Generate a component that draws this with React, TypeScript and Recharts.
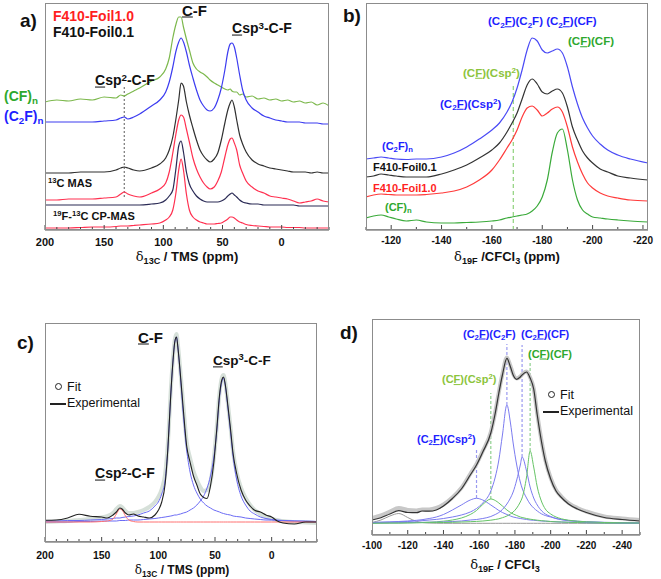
import React from 'react';
import { LineChart, Line, XAxis, YAxis, ReferenceLine } from 'recharts';

const SANS = '"Liberation Sans", Arial, Helvetica, sans-serif';
const RED = '#ff1f1f';
const BLUE = '#1f1fff';
const GREEN = '#2ea82e';
const LIME = '#8cc43c';

// a) 13C MAS / CP-MAS spectra
const A_PPM = [200, 190, 180, 170, 160, 150, 140, 136, 133, 130, 125, 120, 110, 103, 98, 95, 92, 89.5, 87, 85, 83, 80.5, 78, 75, 72, 69, 66, 63, 60.5, 57, 54, 51, 48, 45.5, 43.5, 42, 40, 38, 35.5, 33, 30, 25, 20, 15, 10, 5, 0, -5, -10, -15, -20, -25, -30, -35, -40];
const A_CFN = [128, 130, 129, 131, 130, 133, 132, 135, 134, 136, 139, 142, 149, 153, 161, 172, 192, 205, 213, 213, 203, 191, 180, 167, 161, 158, 156, 153, 150, 147, 145, 143, 141, 140, 141, 139, 138, 138, 135, 136, 133, 134, 131, 132, 130, 131, 129, 130, 128, 129, 127, 128, 125, 127, 124];
const A_C2FN = [108, 108, 108, 108, 108, 109, 110, 112, 113, 111, 113, 116, 124, 130, 138, 148, 163, 178, 188, 192, 188, 178, 165, 152, 140, 130, 124, 120, 119, 122, 130, 142, 160, 178, 186, 187, 183, 172, 155, 140, 130, 122, 118, 114, 112, 110, 109, 108, 108, 108, 107, 107, 107, 106, 106];
const A_MAS_01 = [57, 57, 57, 58, 58, 58, 60, 62, 63, 62, 60, 59, 62, 66, 72, 80, 93, 110, 130, 147, 144, 128, 115, 102, 90, 80, 74, 70, 68, 71, 77, 90, 107, 120, 127, 130, 123, 110, 95, 86, 78, 70, 66, 64, 62, 61, 60, 59, 58, 58, 58, 57, 58, 57, 57];
const A_MAS_10 = [30, 30, 31, 31, 31, 32, 33, 36, 38, 36, 34, 33, 37, 41, 47, 58, 77, 95, 110, 115, 113, 101, 88, 72, 61, 53, 47, 43, 41, 43, 49, 58, 73, 85, 91, 92, 87, 80, 65, 57, 49, 43, 39, 37, 34, 33, 32, 31, 29, 27, 28, 29, 31, 29, 28];
const A_CP_01 = [25, 25, 25, 25, 25, 25, 25, 25, 25, 25, 25, 25, 26, 27, 30, 34, 40, 60, 84, 89, 78, 58, 46, 39, 34, 31, 29, 28, 28, 28, 28, 29, 31, 34, 36, 37, 35, 33, 30, 28, 27, 26, 26, 25, 25, 25, 25, 25, 25, 24, 24, 24, 24, 24, 24];
const A_CP_10 = [2, 2, 2, 2.5, 3, 3, 3.5, 4, 4, 4, 4.5, 5, 6, 7, 10, 13, 20, 36, 60, 71, 60, 36, 20, 13, 10, 8, 7, 6, 6, 6, 6.5, 7, 9, 11, 13, 13, 12, 10, 8, 7, 5.5, 4.5, 4, 3.5, 3, 3, 3, 2.5, 2.5, 2.5, 2, 2, 2, 2, 2];
const A_TICKS = [200, 190, 180, 170, 160, 150, 140, 130, 120, 110, 100, 90, 80, 70, 60, 50, 40, 30, 20, 10, 0, -10, -20, -30, -40];

// b) 19F spectra
const B_PPM = [-110, -113, -116, -119, -122, -126, -130, -134, -140, -145, -150, -155, -160, -163, -166, -168, -170, -172, -174, -176, -178, -180, -182, -184, -186, -188, -190, -192, -194, -196, -198, -200, -203, -206, -210, -215, -222];
const B_C2FN = [71, 72, 73, 72, 71, 70.5, 71, 71, 73, 77, 83, 91, 100, 107, 118, 128, 142, 160, 180, 192, 189, 180, 177, 179, 181, 177, 163, 143, 126, 112, 102, 94, 86, 80, 75, 71, 67];
const B_F01 = [53, 54, 56, 55, 54, 53, 53, 53, 56, 60, 65, 72, 80, 87, 98, 107, 117, 131, 145, 151, 146, 138, 136, 139, 141, 137, 123, 103, 90, 79, 72, 67, 61, 58, 54, 52, 50];
const B_F10 = [33, 35, 36, 35.5, 35, 35, 35, 35.5, 37, 39, 43, 50, 60, 70, 82, 90, 100, 113, 122, 124, 120, 114, 117, 121, 123, 118, 103, 83, 68, 56, 47, 42, 37, 34, 32, 30, 29];
const B_CFN = [12, 14, 15, 13, 11, 9, 10, 8, 7, 7, 7.5, 8, 9, 10, 12, 13, 14, 15, 16, 19, 24, 33, 50, 78, 97, 101, 80, 50, 30, 20, 16, 13, 12, 11, 10, 9, 8];
const B_TICKS = [-110, -120, -130, -140, -150, -160, -170, -180, -190, -200, -210, -220];

// c) 13C fit
const C_PPM = [200, 190, 180, 170, 160, 150, 145, 140, 137, 134, 132, 129, 126, 122, 118, 113, 108, 103, 100, 97, 94, 91.5, 89, 87, 85.5, 84, 82.5, 80.5, 78, 75, 72, 69, 66, 63, 60, 57, 54, 51, 48.5, 46, 44, 42.5, 41, 39, 36.5, 34, 31, 27, 23, 19, 15, 10, 5, 0, -5, -10, -20, -30, -40];
const C_EXP = [21.7, 22, 24, 27.7, 25.7, 25, 24, 27, 30, 34, 33, 29, 27, 28, 26, 25, 24, 27, 31.7, 40, 58, 95, 148, 182, 200, 205, 192, 167, 133, 96, 80, 66, 57, 48, 44.5, 43.5, 56, 80, 112, 147, 162, 165, 158, 140, 115, 88, 69, 52, 42, 36, 31.7, 30, 27, 25, 21, 19, 18, 20, 20];
const C_FIT = [20, 20.5, 21, 22, 23, 24.5, 26, 29, 33, 36, 35, 31, 29, 29, 30, 32, 35, 40, 45, 53, 68, 100, 152, 185, 202, 208, 195, 170, 137, 100, 84, 71, 62, 55, 51, 52, 60, 84, 114, 149, 164, 167, 160, 142, 117, 90, 70, 54, 44, 37, 32, 28, 25, 23, 22, 21, 20, 19.5, 19];
const C_CF = [21, 21, 21.5, 21.5, 22, 22.5, 23, 23.5, 24, 24, 24.5, 25, 25.5, 26, 27, 29, 31, 36, 40, 48, 62, 95, 148, 182, 200, 205, 192, 165, 128, 92, 70, 57, 49, 43, 39, 36, 34, 32, 31, 30, 29, 28.5, 28, 27.5, 27, 26, 25.5, 25, 24, 23.5, 23, 22.5, 22, 22, 21.5, 21.5, 21, 21, 20.5];
const C_CSP3 = [20, 20, 20, 20.5, 20.5, 21, 21, 21, 21, 21.5, 21.5, 21.5, 22, 22, 22, 22.5, 23, 23.5, 24, 24.5, 25, 25.5, 26, 26.5, 27, 27, 27.5, 28, 29, 30, 32, 34, 37, 41, 46, 54, 66, 85, 110, 145, 160, 164, 157, 138, 112, 85, 63, 46, 37, 31, 28, 25, 23.5, 22.5, 22, 21.5, 21, 20.5, 20];
const C_CSP2 = [20, 20, 20, 20, 20, 20.5, 21, 23, 28, 33, 32, 26, 22, 20.5, 20, 20, 20, 20, 20, 20, 20, 20, 20, 20, 20, 20, 20, 20, 20, 20, 20, 20, 20, 20, 20, 20, 20, 20, 20, 20, 20, 20, 20, 20, 20, 20, 20, 20, 20, 20, 20, 20, 20, 20, 20, 20, 20, 20, 20];
const C_TICKS = A_TICKS;

// d) 19F fit
const D_PPM = [-100, -105, -110, -115, -120, -125, -128, -132, -136, -140, -145, -150, -155, -158.5, -162, -166.5, -169, -171, -173, -175.5, -177.5, -179, -181, -183, -184, -186.5, -188.5, -190.5, -192.5, -195, -197, -200, -203, -206, -210, -215, -220, -230, -240, -250];
const D_EXP = [15, 17.3, 21, 24.3, 22.5, 22.3, 24, 23.8, 25, 29, 36.5, 46, 60, 70, 83, 102, 122, 142, 160, 176.7, 168, 160, 155.7, 158, 160, 163, 157, 146, 120, 92, 74, 56, 44, 37.5, 31, 26, 22.5, 17.5, 15.5, 14];
const D_FIT = [17, 19.5, 23.5, 27, 25, 24.5, 25.5, 25.5, 27, 30.5, 37.5, 47, 61, 71, 84, 103, 123, 143, 161, 177.5, 169, 161, 156.5, 158.5, 160.5, 163.5, 157.5, 146.5, 121, 93, 75, 57, 45, 38.5, 32, 27, 23.5, 18.5, 16.5, 15];
const D_LOW = [12.5, 15, 19, 21.5, 17.5, 13.5, 12.5, 12, 11.8, 11.7, 11.7, 11.7, 11.7, 11.7, 11.7, 11.7, 11.7, 11.7, 11.7, 11.7, 11.7, 11.7, 11.7, 11.7, 11.7, 11.7, 11.7, 11.7, 11.7, 11.7, 11.7, 11.7, 11.7, 11.7, 11.7, 11.7, 11.7, 11.7, 11.7, 11.7];
const D_C2F_CSP2 = [12.5, 12.8, 13, 13.5, 14, 14.7, 15.3, 16.5, 18, 20.5, 25, 30, 35, 36.7, 35, 30, 27, 24.5, 22.5, 20.5, 19, 18, 17.2, 16.5, 16.2, 15.5, 15, 14.7, 14.4, 14, 13.8, 13.5, 13.2, 13, 12.8, 12.5, 12.3, 12, 11.9, 11.8];
const D_CF_CSP2 = [11.8, 11.9, 12, 12, 12.2, 12.4, 12.5, 12.8, 13.2, 13.8, 15, 17, 20.5, 24.5, 30.5, 36, 34.5, 32, 29, 25, 22.5, 21, 19.5, 18, 17.5, 16.5, 15.8, 15.3, 14.8, 14.3, 14, 13.5, 13.2, 13, 12.7, 12.5, 12.3, 12, 11.9, 11.8];
const D_C2F_C2F = [12.5, 12.7, 13, 13.2, 13.5, 14, 14.3, 15, 15.6, 16.5, 18, 20, 23, 26.5, 32, 44, 58, 75, 100, 130, 112, 92, 70, 53, 47, 37, 31, 27, 24, 21, 19.5, 18, 16.5, 15.5, 14.5, 13.8, 13.3, 12.7, 12.3, 12];
const D_C2F_CF = [12, 12.1, 12.2, 12.3, 12.4, 12.5, 12.6, 12.7, 12.8, 13, 13.5, 14, 15, 15.5, 16.5, 18.5, 20.5, 22.5, 25.5, 31, 37, 43, 55, 70, 78, 64, 48, 37, 30, 24, 21, 18.5, 16.5, 15.3, 14.3, 13.5, 13, 12.5, 12.2, 12];
const D_CF_CF = [11.8, 11.9, 12, 12, 12.1, 12.2, 12.3, 12.4, 12.4, 12.5, 12.7, 13, 13.3, 13.6, 14, 14.8, 15.5, 16.2, 17.3, 19, 21, 23, 27, 33, 37, 58, 84, 68, 48, 33, 26, 21, 18, 16.2, 14.8, 13.8, 13.2, 12.5, 12.2, 12];
const D_TICKS = [-100, -110, -120, -130, -140, -150, -160, -170, -180, -190, -200, -210, -220, -230, -240, -250];

type LineDef = { key: string; color: string; width?: number };
type Guide = { x: number; y1: number; y2: number; color: string; dash: string };

const A_GUIDES: Guide[] = [{ x: 133, y1: 33, y2: 145, color: '#777', dash: '2 2' }];
const B_GUIDES: Guide[] = [{ x: -168.5, y1: 0, y2: 147, color: '#8fd27c', dash: '4 3' }];
const D_GUIDES: Guide[] = [
  { x: -158.5, y1: 37, y2: 87, color: '#9a9af0', dash: '3 2' },
  { x: -166.5, y1: 36, y2: 142, color: '#8fd08f', dash: '3 2' },
  { x: -175.5, y1: 130, y2: 191, color: '#9a9af0', dash: '3 2' },
  { x: -184, y1: 78, y2: 190, color: '#9a9af0', dash: '3 2' },
  { x: -188.5, y1: 84, y2: 172, color: '#8fd08f', dash: '3 2' },
];

function toRows(xs: number[], cols: Record<string, number[]>) {
  return xs.map((x, i) => {
    const r: Record<string, number> = { x };
    Object.keys(cols).forEach((k) => (r[k] = cols[k][i]));
    return r;
  });
}

const tickRenderer = (major: number, gap: number, size: number) => (p: any) => {
  const v = p.payload.value;
  const big = Math.abs(v) % major === 0;
  return (
    <g>
      <line x1={p.x} x2={p.x} y1={p.y} y2={p.y - (big ? 5 : 3)} stroke="#444" />
      {big && (
        <text x={p.x} y={p.y + gap} textAnchor="middle" dominantBaseline="central" fontFamily={SANS} fontWeight="bold" fontSize={size} fill="#111">
          {v}
        </text>
      )}
    </g>
  );
};

type SpecProps = {
  box: [number, number, number, number];
  frame: [number, number, number, number];
  rows: Record<string, number>[];
  lines: LineDef[];
  domain: [number, number];
  ticks: number[];
  major: number;
  gap: number;
  size: number;
  guides: Guide[];
};

function Spectrum({ box, frame, rows, lines, domain, ticks, major, gap, size, guides }: SpecProps) {
  const [bx, by, bw, bh] = box;
  const [fx0, fy0, fx1, fy1] = frame;
  const margin = { left: fx0 - bx, right: bx + bw - fx1, top: fy0 - by, bottom: by + bh - fy1 - 30 };
  return (
    <div style={{ position: 'absolute', left: bx, top: by, width: bw, height: bh }}>
      <LineChart width={bw} height={bh} data={rows} margin={margin}>
        <XAxis
          type="number"
          dataKey="x"
          domain={domain}
          reversed
          allowDataOverflow
          ticks={ticks}
          interval={0}
          height={30}
          tickSize={0}
          tickMargin={0}
          tickLine={false}
          axisLine={{ stroke: '#555' }}
          tick={tickRenderer(major, gap, size)}
        />
        <YAxis hide domain={[0, fy1 - fy0]} allowDataOverflow />
        {guides.map((g, i) => (
          <ReferenceLine
            key={i}
            segment={[{ x: g.x, y: g.y1 }, { x: g.x, y: g.y2 }]}
            stroke={g.color}
            strokeDasharray={g.dash}
            strokeWidth={1.2}
          />
        ))}
        {lines.map((l) => (
          <Line
            key={l.key}
            dataKey={l.key}
            type="monotone"
            dot={false}
            stroke={l.color}
            strokeWidth={l.width ?? 1.2}
            isAnimationActive={false}
          />
        ))}
      </LineChart>
      <div
        style={{
          position: 'absolute',
          left: margin.left,
          top: margin.top,
          width: fx1 - fx0,
          height: fy1 - fy0,
          border: '1px solid #8c8c8c',
          boxSizing: 'border-box',
          pointerEvents: 'none',
        }}
      />
    </div>
  );
}

const Sub = ({ children }: any) => <span style={{ fontSize: '0.7em', verticalAlign: '-0.3em' }}>{children}</span>;
const Sup = ({ children }: any) => <span style={{ fontSize: '0.7em', verticalAlign: '0.5em' }}>{children}</span>;

function T({ x, y, s = 12, c = '#111', w = 700, center = false, children }: any) {
  return (
    <div
      style={{
        position: 'absolute',
        left: x,
        top: y,
        transform: center ? 'translate(-50%, -50%)' : 'translateY(-50%)',
        fontFamily: SANS,
        fontSize: s,
        fontWeight: w,
        color: c,
        whiteSpace: 'nowrap',
        lineHeight: 1,
      }}
    >
      {children}
    </div>
  );
}

const Delta = () => <span style={{ fontFamily: '"DejaVu Serif", serif', fontWeight: 400 }}>δ</span>;

function Legend({ x, y }: { x: number; y: number }) {
  return (
    <>
      <div style={{ position: 'absolute', left: x, top: y - 4, width: 7, height: 7, borderRadius: '50%', border: '1.3px solid #222', boxSizing: 'border-box' }} />
      <T x={x + 12} y={y} s={12.5} w={400}>Fit</T>
      <div style={{ position: 'absolute', left: x - 5, top: y + 16, width: 16, height: 2, background: '#222' }} />
      <T x={x + 12} y={y + 16} s={12.5} w={400}>Experimental</T>
    </>
  );
}

export default function App() {
  const aRows = toRows(A_PPM, { cfn: A_CFN, c2fn: A_C2FN, mas01: A_MAS_01, mas10: A_MAS_10, cp01: A_CP_01, cp10: A_CP_10 });
  const bRows = toRows(B_PPM, { c2fn: B_C2FN, f01: B_F01, f10: B_F10, cfn: B_CFN });
  const cRows = toRows(C_PPM, { fit: C_FIT, cf: C_CF, csp3: C_CSP3, csp2: C_CSP2, exp: C_EXP });
  const dRows = toRows(D_PPM, { fit: D_FIT, low: D_LOW, a: D_C2F_CSP2, b: D_CF_CSP2, c: D_C2F_C2F, d: D_C2F_CF, e: D_CF_CF, exp: D_EXP });

  return (
    <div style={{ position: 'absolute', left: 0, top: 0, width: 661, height: 579, background: '#fff', overflow: 'hidden' }}>
      <Spectrum
        box={[0, 0, 335, 290]}
        frame={[45, 3, 329, 230]}
        rows={aRows}
        domain={[-40, 200]}
        ticks={A_TICKS}
        major={50}
        gap={12}
        size={11}
        guides={A_GUIDES}
        lines={[
          { key: 'cfn', color: '#7cb84c' },
          { key: 'c2fn', color: '#3c3cf0' },
          { key: 'mas01', color: '#303030' },
          { key: 'mas10', color: '#ff3050' },
          { key: 'cp01', color: '#2a2a55' },
          { key: 'cp10', color: '#ff3050' },
        ]}
      />
      <Spectrum
        box={[335, 0, 326, 290]}
        frame={[366, 3, 648, 230]}
        rows={bRows}
        domain={[-222, -110]}
        ticks={B_TICKS}
        major={20}
        gap={10}
        size={10}
        guides={B_GUIDES}
        lines={[
          { key: 'c2fn', color: '#4a4af5' },
          { key: 'f01', color: '#333' },
          { key: 'f10', color: '#ff3a3a' },
          { key: 'cfn', color: '#3aaa3a' },
        ]}
      />
      <Spectrum
        box={[0, 290, 335, 289]}
        frame={[45, 323, 317, 542]}
        rows={cRows}
        domain={[-40, 200]}
        ticks={C_TICKS}
        major={50}
        gap={13}
        size={10.5}
        guides={[]}
        lines={[
          { key: 'fit', color: '#d6e0d9', width: 4 },
          { key: 'cf', color: '#6a6af5', width: 1 },
          { key: 'csp3', color: '#6a6af5', width: 1 },
          { key: 'csp2', color: '#ff7070', width: 1 },
          { key: 'exp', color: '#222', width: 1.1 },
        ]}
      />
      <Spectrum
        box={[335, 290, 326, 289]}
        frame={[372, 319, 640, 535]}
        rows={dRows}
        domain={[-250, -100]}
        ticks={D_TICKS}
        major={20}
        gap={10}
        size={10}
        guides={D_GUIDES}
        lines={[
          { key: 'fit', color: '#c8c8c8', width: 4 },
          { key: 'low', color: '#999', width: 1 },
          { key: 'a', color: '#7b7bf0', width: 1 },
          { key: 'b', color: '#66c466', width: 1 },
          { key: 'c', color: '#7b7bf0', width: 1 },
          { key: 'd', color: '#7b7bf0', width: 1 },
          { key: 'e', color: '#66c466', width: 1 },
          { key: 'exp', color: '#333', width: 1.2 },
        ]}
      />

      {/* a) */}
      <T x={20} y={20} s={19}>a)</T>
      <T x={53} y={16} s={14} c={RED}>F410-Foil1.0</T>
      <T x={53} y={32} s={14}>F410-Foil0.1</T>
      <T x={182} y={10} s={15}><u>C</u>-F</T>
      <T x={232} y={28} s={14}><u>C</u>sp<Sup>3</Sup>-C-F</T>
      <T x={95} y={80} s={14}><u>C</u>sp<Sup>2</Sup>-C-F</T>
      <T x={4} y={97} s={14} c={GREEN}>(CF)<Sub>n</Sub></T>
      <T x={4} y={117} s={14} c={BLUE}>(C<Sub>2</Sub>F)<Sub>n</Sub></T>
      <T x={48} y={183} s={11}><Sup>13</Sup>C MAS</T>
      <T x={53} y={216} s={11}><Sup>19</Sup>F-<Sup>13</Sup>C CP-MAS</T>
      <T x={187} y={258} s={13} center><Delta /><Sub>13C</Sub> / TMS (ppm)</T>

      {/* b) */}
      <T x={343} y={15} s={19}>b)</T>
      <T x={488} y={23} s={11.5} c={BLUE}>(C<Sub>2</Sub><u>F</u>)(C<Sub>2</Sub>F) (C<Sub>2</Sub><u>F</u>)(CF)</T>
      <T x={568} y={42} s={11.5} c={GREEN}>(C<u>F</u>)(CF)</T>
      <T x={463} y={73} s={11.5} c={LIME}>(C<u>F</u>)(Csp<Sup>2</Sup>)</T>
      <T x={440} y={105} s={11.5} c={BLUE}>(C<Sub>2</Sub><u>F</u>)(Csp<Sup>2</Sup>)</T>
      <T x={382} y={147} s={11} c={BLUE}>(C<Sub>2</Sub>F)<Sub>n</Sub></T>
      <T x={373} y={167} s={11}>F410-Foil0.1</T>
      <T x={373} y={188} s={11} c={RED}>F410-Foil1.0</T>
      <T x={385} y={208} s={11} c={GREEN}>(CF)<Sub>n</Sub></T>
      <T x={507} y={258} s={13} center><Delta /><Sub>19F</Sub> /CFCl<Sub>3</Sub> (ppm)</T>

      {/* c) */}
      <T x={17} y={342} s={19}>c)</T>
      <T x={138} y={337} s={15}><u>C</u>-F</T>
      <T x={213} y={360} s={13.5}><u>C</u>sp<Sup>3</Sup>-C-F</T>
      <T x={95} y={473} s={14}><u>C</u>sp<Sup>2</Sup>-C-F</T>
      <Legend x={55} y={387} />
      <T x={182} y={571} s={12} center><Delta /><Sub>13C</Sub> / TMS (ppm)</T>

      {/* d) */}
      <T x={340} y={332} s={19}>d)</T>
      <T x={463} y={335} s={11} c={BLUE}>(C<Sub>2</Sub><u>F</u>)(C<Sub>2</Sub>F)</T>
      <T x={521} y={335} s={11} c={BLUE}>(C<Sub>2</Sub><u>F</u>)(CF)</T>
      <T x={528} y={354} s={11} c={GREEN}>(C<u>F</u>)(CF)</T>
      <T x={442} y={379} s={11} c={LIME}>(C<u>F</u>)(Csp<Sup>2</Sup>)</T>
      <T x={417} y={440} s={11} c={BLUE}>(C<Sub>2</Sub><u>F</u>)(Csp<Sup>2</Sup>)</T>
      <Legend x={548} y={395} />
      <T x={505} y={566} s={13} center><Delta /><Sub>19F</Sub> / CFCl<Sub>3</Sub></T>
    </div>
  );
}
